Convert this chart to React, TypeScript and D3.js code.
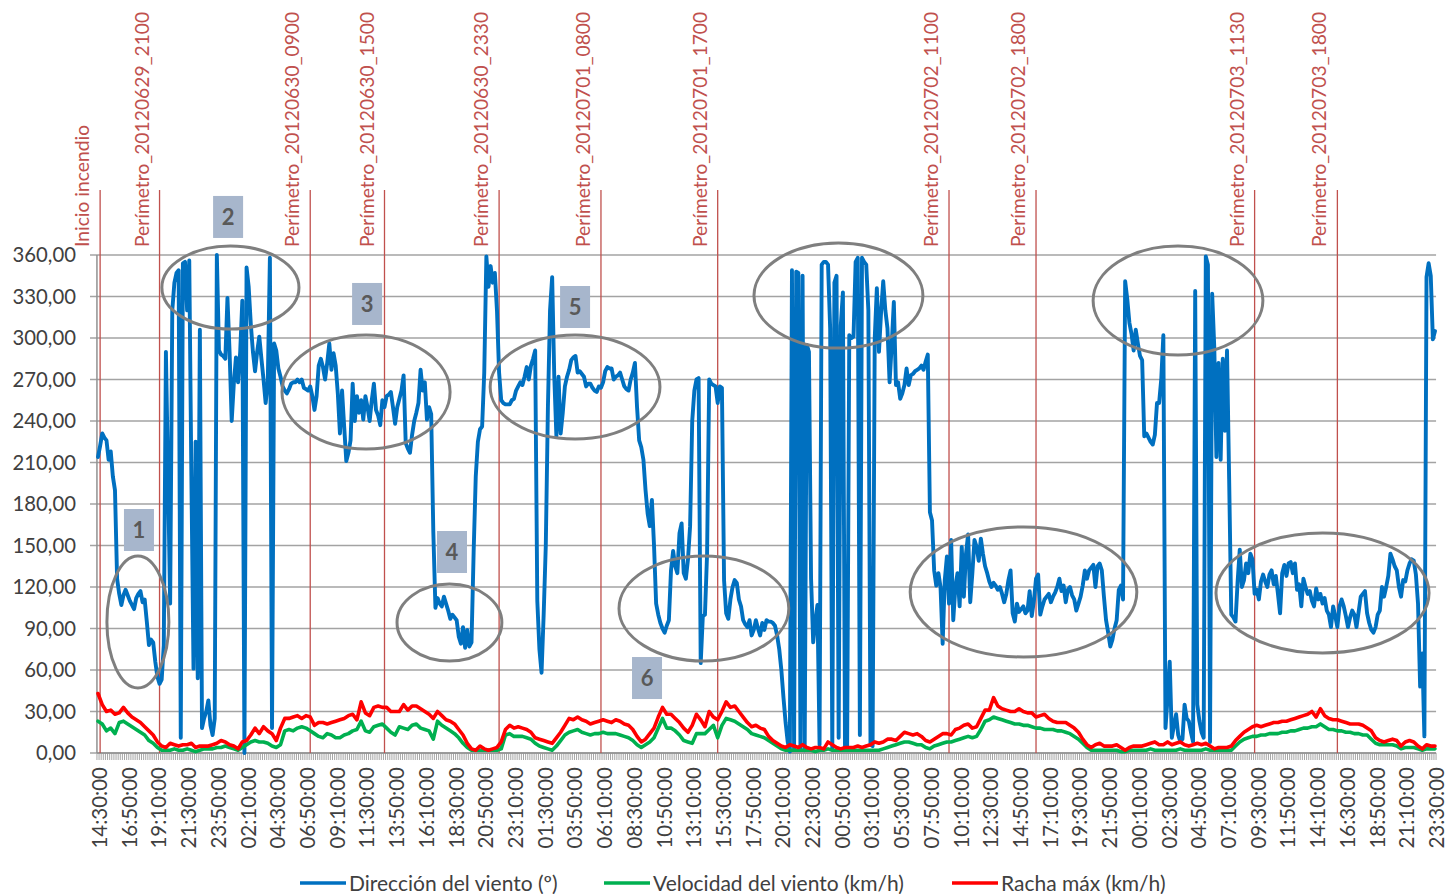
import React from 'react';
import * as d3 from 'd3';

// ---------- DATA ----------
// Category axis: 10-minute records from 2012-06-29 14:30 to 2012-07-03 23:30
const N_CATEGORIES = 631;
const TICK_EVERY = 14;
const TICK_LABELS = [
  '14:30:00', '16:50:00', '19:10:00', '21:30:00', '23:50:00', '02:10:00', '04:30:00', '06:50:00',
  '09:10:00', '11:30:00', '13:50:00', '16:10:00', '18:30:00', '20:50:00', '23:10:00', '01:30:00',
  '03:50:00', '06:10:00', '08:30:00', '10:50:00', '13:10:00', '15:30:00', '17:50:00', '20:10:00',
  '22:30:00', '00:50:00', '03:10:00', '05:30:00', '07:50:00', '10:10:00', '12:30:00', '14:50:00',
  '17:10:00', '19:30:00', '21:50:00', '00:10:00', '02:30:00', '04:50:00', '07:10:00', '09:30:00',
  '11:50:00', '14:10:00', '16:30:00', '18:50:00', '21:10:00', '23:30:00',
];
const Y_TICKS = [0, 30, 60, 90, 120, 150, 180, 210, 240, 270, 300, 330, 360];

// Dirección del viento (º), one value per 10-min category
const DIRECTION = [
  214, 222, 231, 228, 226, 212, 218, 200, 190, 126,
  115, 107, 114, 118, 114, 110, 107, 104, 112, 115,
  117, 109, 111, 95, 78, 82, 80, 66, 55, 50,
  53, 78, 290, 200, 108, 320, 340, 347, 349, 11,
  354, 355, 320, 356, 200, 61, 225, 54, 306, 18,
  25, 30, 38, 20, 13, 25, 360, 291, 288, 287,
  285, 329, 290, 240, 267, 286, 268, 290, 327, 0,
  351, 337, 310, 290, 276, 290, 301, 285, 270, 253,
  268, 358, 18, 296, 291, 278, 272, 265, 262, 260,
  263, 267, 268, 268, 270, 268, 270, 264, 263, 262,
  265, 258, 248, 258, 280, 285, 279, 270, 282, 296,
  277, 289, 280, 260, 231, 262, 236, 211, 217, 226,
  267, 240, 258, 246, 255, 241, 258, 250, 240, 255,
  267, 248, 244, 237, 255, 250, 258, 259, 261, 250,
  238, 250, 256, 262, 273, 224, 220, 217, 230, 240,
  246, 253, 277, 262, 268, 241, 250, 245, 160, 105,
  112, 108, 106, 113, 108, 103, 97, 100, 98, 96,
  84, 79, 91, 76, 89, 77, 80, 145, 200, 225,
  234, 236, 275, 359, 337, 352, 340, 347, 320, 275,
  255, 253, 252, 252, 252, 255, 256, 262, 265, 268,
  266, 272, 279, 270, 280, 285, 291, 110, 75, 58,
  100, 150, 250, 320, 344, 272, 229, 272, 231, 246,
  265, 272, 277, 284, 286, 287, 275, 276, 274, 272,
  265, 267, 267, 264, 262, 261, 265, 264, 268, 276,
  279, 278, 278, 270, 272, 273, 275, 270, 265, 263,
  262, 270, 275, 282, 250, 226, 221, 212, 190, 173,
  164, 183, 150, 108, 100, 94, 90, 87, 92, 96,
  132, 146, 135, 130, 159, 166, 130, 126, 140, 164,
  240, 262, 270, 271, 65, 99, 100, 144, 270, 267,
  266, 265, 253, 265, 264, 125, 101, 97, 111, 120,
  125, 123, 111, 106, 96, 93, 91, 96, 85, 89,
  96, 90, 85, 94, 89, 96, 95, 95, 94, 92,
  85, 75, 60, 40, 22, 8, 1, 349, 3, 348,
  347, 3, 345, 2, 295, 290, 126, 80, 95, 107,
  6, 353, 355, 355, 353, 307, 3, 340, 345, 11,
  309, 333, 3, 5, 302, 300, 301, 355, 358, 13,
  358, 355, 353, 320, 6, 5, 300, 336, 290, 319,
  341, 320, 307, 268, 295, 326, 266, 268, 256, 260,
  266, 278, 266, 273, 274, 276, 277, 278, 280, 277,
  283, 288, 174, 168, 132, 121, 130, 120, 79, 125,
  142, 108, 154, 96, 120, 130, 106, 149, 113, 144,
  158, 109, 130, 154, 149, 139, 155, 144, 135, 130,
  124, 120, 123, 121, 118, 120, 115, 109, 115, 125,
  132, 101, 95, 108, 102, 104, 106, 101, 103, 117,
  99, 110, 126, 129, 100, 106, 111, 113, 115, 109,
  113, 116, 120, 126, 117, 121, 109, 118, 120, 114,
  111, 103, 108, 113, 121, 132, 126, 132, 134, 136,
  120, 135, 137, 132, 113, 96, 87, 77, 82, 90,
  96, 118, 121, 111, 341, 328, 311, 303, 291, 306,
  296, 287, 284, 229, 231, 228, 225, 223, 230, 253,
  253, 270, 302, 18, 40, 66, 11, 20, 28, 13,
  8, 10, 35, 25, 23, 15, 8, 334, 35, 23,
  15, 11, 359, 353, 8, 332, 293, 214, 282, 212,
  285, 233, 291, 198, 100, 98, 95, 124, 147, 120,
  125, 137, 130, 144, 140, 115, 118, 111, 124, 129,
  124, 120, 129, 132, 122, 128, 115, 101, 130, 136,
  128, 137, 138, 130, 137, 118, 122, 106, 126, 120,
  115, 117, 110, 106, 119, 111, 115, 108, 112, 103,
  100, 91, 106, 99, 91, 106, 111, 106, 99, 91,
  98, 103, 100, 91, 102, 113, 115, 117, 101, 94,
  89, 87, 91, 100, 103, 120, 113, 120, 128, 144,
  140, 135, 132, 120, 113, 125, 124, 132, 137, 140,
  139, 129, 108, 48, 72, 12, 344, 354, 345, 299,
  305,
];

// Speed and gust, read every 2 categories (20 min)
const SPEED_STEP = 2;
const SPEED = [
  23, 21, 16, 18, 14, 22, 23, 21, 19, 17, 15, 13, 9, 7, 4, 2, 2, 2, 3, 2,
  2, 3, 2, 1, 2, 3, 3, 3, 4, 4, 5, 4, 3, 2, 4, 6, 8, 9, 8, 8,
  7, 5, 4, 6, 16, 17, 16, 18, 19, 18, 16, 14, 12, 11, 14, 13, 11, 11, 13, 14,
  16, 17, 23, 16, 15, 19, 20, 21, 18, 15, 13, 19, 18, 17, 20, 21, 18, 17, 16, 10,
  23, 20, 18, 16, 14, 11, 7, 4, 2, 2, 2, 2, 2, 2, 2, 3, 13, 14, 12, 12,
  12, 11, 10, 7, 5, 4, 3, 2, 5, 9, 13, 15, 16, 17, 15, 14, 13, 14, 14, 15,
  14, 14, 14, 13, 12, 11, 9, 6, 4, 6, 8, 11, 18, 25, 18, 18, 16, 13, 9, 8,
  7, 14, 14, 14, 17, 20, 11, 20, 25, 24, 23, 21, 19, 17, 14, 13, 12, 11, 9, 7,
  5, 3, 2, 2, 2, 2, 2, 2, 2, 1, 2, 2, 3, 2, 2, 2, 2, 2, 2, 2,
  2, 2, 2, 2, 2, 3, 4, 5, 6, 7, 8, 8, 7, 6, 6, 4, 3, 5, 6, 7,
  8, 8, 9, 10, 11, 12, 11, 12, 17, 23, 24, 26, 25, 24, 23, 22, 21, 21, 20, 20,
  19, 18, 18, 17, 17, 17, 16, 16, 15, 14, 12, 10, 7, 4, 2, 2, 2, 2, 2, 2,
  2, 1, 1, 2, 2, 2, 2, 2, 3, 2, 2, 2, 2, 2, 2, 3, 2, 2, 2, 2,
  2, 3, 2, 2, 2, 2, 2, 2, 5, 8, 10, 11, 12, 12, 13, 13, 14, 14, 14, 15,
  15, 16, 16, 17, 18, 18, 19, 19, 21, 19, 17, 17, 16, 16, 15, 15, 14, 14, 13, 13,
  10, 7, 6, 6, 6, 6, 5, 3, 4, 4, 4, 3, 2, 3, 3, 3,
];
const GUST = [
  43, 35, 30, 31, 28, 29, 33, 29, 26, 24, 22, 19, 16, 13, 8, 5, 4, 7, 6, 5,
  6, 6, 7, 4, 5, 5, 5, 6, 7, 9, 8, 6, 5, 3, 8, 9, 13, 18, 14, 19,
  16, 14, 9, 18, 25, 25, 26, 27, 25, 27, 26, 20, 22, 22, 21, 22, 23, 24, 25, 27,
  28, 24, 37, 29, 27, 33, 34, 33, 33, 30, 30, 30, 35, 31, 34, 34, 32, 30, 28, 25,
  30, 27, 24, 23, 21, 17, 13, 7, 3, 2, 5, 3, 2, 3, 4, 8, 17, 20, 18, 19,
  18, 17, 15, 11, 10, 9, 8, 7, 11, 15, 20, 25, 24, 26, 24, 23, 21, 22, 23, 24,
  23, 22, 24, 23, 21, 20, 17, 12, 8, 10, 14, 18, 26, 33, 28, 28, 25, 22, 18, 15,
  20, 28, 24, 19, 30, 26, 24, 30, 37, 33, 34, 30, 26, 22, 19, 20, 18, 17, 12, 9,
  7, 5, 4, 6, 5, 4, 6, 4, 3, 4, 4, 3, 8, 6, 4, 3, 4, 4, 4, 5,
  4, 5, 6, 8, 7, 8, 10, 10, 9, 12, 15, 14, 13, 14, 12, 9, 8, 10, 12, 14,
  14, 13, 17, 18, 20, 21, 18, 19, 25, 31, 31, 40, 34, 32, 31, 30, 30, 32, 30, 29,
  29, 26, 27, 28, 25, 23, 22, 22, 22, 20, 18, 15, 10, 6, 4, 6, 7, 5, 5, 5,
  6, 4, 2, 4, 5, 5, 5, 6, 7, 8, 6, 6, 8, 6, 7, 8, 6, 5, 6, 7,
  6, 7, 5, 3, 4, 4, 4, 5, 9, 12, 15, 17, 19, 20, 19, 20, 21, 22, 22, 23,
  23, 24, 25, 26, 27, 28, 30, 26, 32, 27, 25, 24, 24, 23, 22, 21, 21, 21, 20, 18,
  16, 11, 9, 8, 9, 10, 9, 5, 8, 9, 8, 5, 3, 6, 5, 5,
];

// Fire perimeter markers (category index)
const MARKER_LABELS = [
  'Inicio incendio', 'Perímetro_20120629_2100', 'Perímetro_20120630_0900', 'Perímetro_20120630_1500',
  'Perímetro_20120630_2330', 'Perímetro_20120701_0800', 'Perímetro_20120701_1700', 'Perímetro_20120702_1100',
  'Perímetro_20120702_1800', 'Perímetro_20120703_1130', 'Perímetro_20120703_1800',
];
const MARKER_INDEX = [1, 29, 100, 135, 189, 237, 292, 401, 442, 545, 584];

// Highlighted zones: [centre index, centre value, half-width (categories), half-height (º)]
const ZONES = [
  [18.8, 94.7, 14.6, 47.7],
  [62.4, 336.5, 32.3, 30],
  [126.3, 261, 39.6, 41.2],
  [165.6, 94.3, 24.7, 27.8],
  [224.8, 264.6, 40, 37.6],
  [285.5, 104.5, 40, 38],
  [348.9, 330.7, 39.8, 38],
  [436.1, 116.4, 53.4, 47],
  [508.9, 327.1, 40, 39.4],
  [577, 115.7, 50.2, 43.4],
];
// Numbered tags: [label, centre index, centre value]
const TAGS: [string, number, number][] = [
  ['1', 19.3, 161.2],
  ['2', 61.3, 387.5],
  ['3', 126.8, 324.6],
  ['4', 166.8, 145.3],
  ['5', 224.8, 322.4],
  ['6', 258.7, 54.2],
];

const LEGEND = [
  { label: 'Dirección del viento (º)', color: '#0070C0' },
  { label: 'Velocidad del viento (km/h)', color: '#00B050' },
  { label: 'Racha máx (km/h)', color: '#FF0000' },
];

// ---------- CHART ----------
const FONT = "Lato, 'Open Sans', 'DejaVu Sans', sans-serif";

export default function App() {
  const W = 1454;
  const H = 894;
  const x = d3.scaleLinear().domain([0, N_CATEGORIES - 1]).range([98, 1435]);
  const y = d3.scaleLinear().domain([0, 360]).range([753, 255]);
  const xl = x(-0.5);
  const xr = x(N_CATEGORIES - 0.5);
  const fmt = d3.formatLocale({ decimal: ',', thousands: '.', grouping: [3], currency: ['', '€'] }).format('.2f');

  const lineDir = d3.line<number>().x((_, i) => x(i)).y((d) => y(d));
  const lineStep = d3.line<number>().x((_, i) => x(i * SPEED_STEP)).y((d) => y(d));

  const minorTicks = d3.range(0, N_CATEGORIES + 1).map((i) => x(i - 0.5));
  const legendX = [300, 604, 952];

  return (
    <svg width={W} height={H} style={{ position: 'absolute', left: 0, top: 0, background: '#fff' }} fontFamily={FONT}>
      <rect x={0} y={0} width={W} height={H} fill="#fff" />
      {/* grid */}
      {Y_TICKS.map((t) => (
        <line key={'g' + t} x1={90} x2={xr} y1={y(t)} y2={y(t)} stroke="#A3A3A3" strokeWidth={1.5} />
      ))}
      {/* y labels */}
      {Y_TICKS.map((t) => (
        <text key={'yl' + t} x={76} y={y(t)} dy="0.36em" textAnchor="end" fontSize={20.3} fill="#404040">
          {fmt(t)}
        </text>
      ))}
      {/* axes */}
      <line x1={xl} x2={xl} y1={y(360)} y2={y(0)} stroke="#909090" strokeWidth={1.5} />
      <g stroke="#A6A6A6" strokeWidth={1}>
        {minorTicks.map((tx, i) => (
          <line key={'mt' + i} x1={tx} x2={tx} y1={y(0)} y2={y(0) + 7} />
        ))}
      </g>
      <line x1={xl} x2={xr} y1={y(0)} y2={y(0)} stroke="#909090" strokeWidth={1.5} />
      {/* x labels */}
      {TICK_LABELS.map((lab, k) => (
        <text
          key={'xl' + k}
          transform={`translate(${x(k * TICK_EVERY) + 9},767) rotate(-90)`}
          textAnchor="end"
          fontSize={20.5}
          fill="#404040"
        >
          {lab}
        </text>
      ))}
      {/* perimeter markers */}
      {MARKER_INDEX.map((mi, k) => (
        <g key={'m' + k}>
          <line x1={x(mi)} x2={x(mi)} y1={190} y2={y(0)} stroke="#C0504D" strokeWidth={1.3} />
          <text transform={`translate(${x(mi) - 11},247) rotate(-90)`} fontSize={19.3} fill="#C0504D">
            {MARKER_LABELS[k]}
          </text>
        </g>
      ))}
      {/* series */}
      <path d={lineDir(DIRECTION) || ''} fill="none" stroke="#0070C0" strokeWidth={3.9} strokeLinejoin="round" strokeLinecap="round" />
      <path d={lineStep(SPEED) || ''} fill="none" stroke="#00B050" strokeWidth={3.6} strokeLinejoin="round" strokeLinecap="round" />
      <path d={lineStep(GUST) || ''} fill="none" stroke="#FF0000" strokeWidth={3.6} strokeLinejoin="round" strokeLinecap="round" />
      {/* zones */}
      {ZONES.map(([ci, cv, ri, rv], k) => (
        <ellipse
          key={'z' + k}
          cx={x(ci)}
          cy={y(cv)}
          rx={x(ci + ri) - x(ci)}
          ry={y(cv - rv) - y(cv)}
          fill="none"
          stroke="#7F7F7F"
          strokeWidth={3}
        />
      ))}
      {/* tags */}
      {TAGS.map(([lab, ci, cv]) => (
        <g key={'t' + lab}>
          <rect x={x(ci) - 15} y={y(cv) - 21} width={30} height={42} fill="#A7B6CC" />
          <text x={x(ci)} y={y(cv)} dy="0.36em" textAnchor="middle" fontSize={22} fontWeight="bold" fill="#595959">
            {lab}
          </text>
        </g>
      ))}
      {/* legend */}
      {LEGEND.map((l, k) => (
        <g key={'lg' + k}>
          <line x1={legendX[k]} x2={legendX[k] + 46} y1={883} y2={883} stroke={l.color} strokeWidth={3.6} />
          <text x={legendX[k] + 49} y={883} dy="0.36em" fontSize={21} fill="#404040">
            {l.label}
          </text>
        </g>
      ))}
    </svg>
  );
}
